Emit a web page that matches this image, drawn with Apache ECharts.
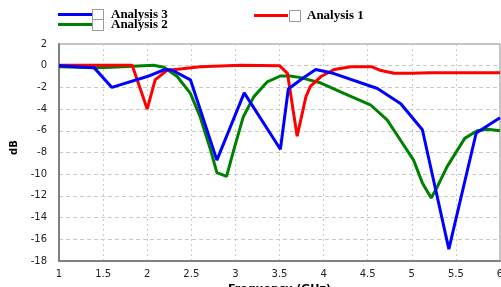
<!DOCTYPE html>
<html>
<head>
<meta charset="utf-8">
<script src="https://cdn.jsdelivr.net/npm/echarts@6/dist/echarts.min.js"></script>
<style>
  html, body { margin: 0; padding: 0; background: #fff; }
  #chart { width: 501px; height: 287px; }
</style>
</head>
<body>
<div id="chart"></div>
<script>
// frequency (GHz) / dB pairs
const analysis1 = [
  [1.0, 0.05], [1.5, 0.05], [1.83, 0.05], [2.0, -4.0], [2.09, -1.3], [2.22, -0.45],
  [2.6, -0.1], [3.06, 0.05], [3.5, 0.0], [3.59, -0.7], [3.7, -6.5], [3.8, -2.85],
  [3.85, -1.9], [3.97, -1.0], [4.12, -0.35], [4.31, -0.1], [4.55, -0.1], [4.65, -0.45],
  [4.8, -0.7], [5.0, -0.7], [5.2, -0.65], [5.63, -0.65], [6.0, -0.65]
];
const analysis2 = [
  [1.0, -0.1], [1.4, -0.2], [1.6, -0.15], [2.07, 0.05], [2.19, -0.15], [2.34, -1.0],
  [2.49, -2.55], [2.6, -4.7], [2.72, -7.8], [2.79, -9.85], [2.9, -10.2], [2.98, -7.8],
  [3.09, -4.7], [3.21, -2.85], [3.36, -1.5], [3.51, -0.95], [3.62, -0.95], [3.74, -1.1],
  [3.97, -1.6], [4.23, -2.55], [4.53, -3.6], [4.72, -5.0], [4.87, -6.85], [5.02, -8.7],
  [5.12, -10.8], [5.22, -12.2], [5.29, -11.15], [5.4, -9.3], [5.6, -6.7], [5.74, -6.0],
  [5.86, -5.85], [6.0, -6.0]
];
const analysis3 = [
  [1.0, 0.0], [1.4, -0.2], [1.6, -2.0], [2.0, -1.0], [2.2, -0.35], [2.28, -0.4],
  [2.49, -1.3], [2.79, -8.7], [3.1, -2.5], [3.51, -7.7], [3.6, -2.15], [3.74, -1.3],
  [3.91, -0.35], [4.11, -0.7], [4.61, -2.1], [4.875, -3.5], [5.12, -5.9], [5.42, -16.9],
  [5.73, -6.2], [6.0, -4.8]
];
const seriesNames = ['Analysis 1', 'Analysis 2', 'Analysis 3'];
const seriesColors = ['#ff0000', '#008000', '#0000ff'];

const chart = echarts.init(document.getElementById('chart'));

const legendText = {
  fontFamily: 'Liberation Serif',
  fontWeight: 'bold',
  fontSize: 13,
  color: '#000',
  padding: [0, 0, 0, 14]
};
function legendAt(name, left, top) {
  return {
    data: [name], left: left, top: top, icon: 'rect',
    itemWidth: 34, itemHeight: 3, padding: 0,
    selectedMode: false, textStyle: legendText
  };
}
// little checkbox squares next to each legend line
function box(x, y) {
  return {
    type: 'rect', left: x, top: y,
    shape: { width: 11, height: 11 },
    style: { fill: '#fff', stroke: '#9a9a9a', lineWidth: 1 }
  };
}

chart.setOption({
  animation: false,
  grid: {
    left: 59, right: 1, top: 44, bottom: 26,
    outerBoundsMode: 'none', containLabel: false,
    show: true, borderColor: '#8a8a8a', borderWidth: 1
  },
  legend: [
    legendAt('Analysis 3', 58, 8),
    legendAt('Analysis 2', 58, 18),
    legendAt('Analysis 1', 254, 9)
  ],
  graphic: [box(92, 9), box(92, 19), box(289, 10)],
  xAxis: {
    type: 'value', min: 1, max: 6, interval: 0.5,
    name: 'Frequency (GHz)', nameLocation: 'middle', nameGap: 21,
    nameTextStyle: { fontFamily: 'DejaVu Sans', fontWeight: 'bold', fontSize: 11, color: '#000', verticalAlign: 'top' },
    axisLine: { onZero: false, lineStyle: { color: '#808080', width: 2 } },
    axisTick: { show: false },
    axisLabel: { color: '#222', fontFamily: 'DejaVu Sans', fontSize: 10, margin: 8 },
    splitLine: { lineStyle: { color: '#c8c8c8', type: [2, 3] } }
  },
  yAxis: {
    type: 'value', min: -18, max: 2, interval: 2,
    name: 'dB', nameLocation: 'middle', nameGap: 39, nameRotate: 90,
    nameTextStyle: { fontFamily: 'DejaVu Sans', fontWeight: 'bold', fontSize: 10, color: '#000', padding: [0, 0, 0, 10] },
    axisLine: { show: true, onZero: false, lineStyle: { color: '#808080', width: 2 } },
    axisTick: { show: false },
    axisLabel: { color: '#222', fontFamily: 'DejaVu Sans', fontSize: 10, margin: 12 },
    splitLine: { lineStyle: { color: '#c8c8c8', type: [4, 3] } }
  },
  series: [
    { name: seriesNames[0], type: 'line', data: analysis1, symbol: 'none', color: seriesColors[0], lineStyle: { width: 3 }, z: 3 },
    { name: seriesNames[1], type: 'line', data: analysis2, symbol: 'none', color: seriesColors[1], lineStyle: { width: 3 }, z: 2 },
    { name: seriesNames[2], type: 'line', data: analysis3, symbol: 'none', color: seriesColors[2], lineStyle: { width: 3 }, z: 4 }
  ]
});
</script>
</body>
</html>
